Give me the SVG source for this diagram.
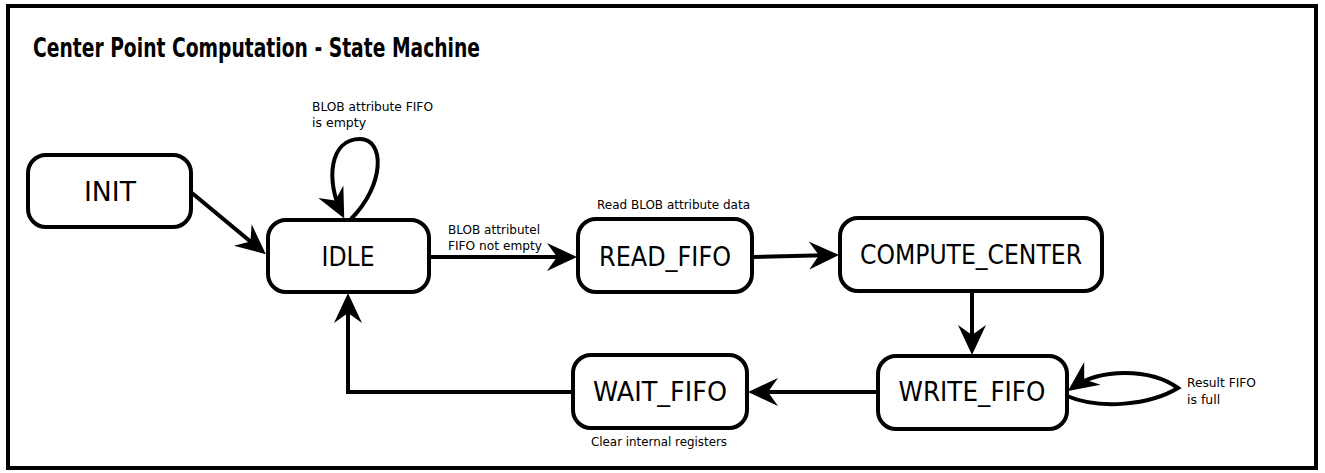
<svg xmlns="http://www.w3.org/2000/svg" width="1325" height="473" viewBox="0 0 1325 473">
<style>
.frame{fill:#fff;stroke:#000;stroke-width:4}
.node rect{fill:#fff;stroke:#000;stroke-width:4}
.node text{font-family:"DejaVu Sans",Verdana,sans-serif;font-size:27px;fill:#000;text-anchor:middle}
.lbl{font-family:"DejaVu Sans",Verdana,sans-serif;font-size:12.5px;fill:#000}
.title{font-family:"DejaVu Sans",Verdana,sans-serif;font-size:27px;font-weight:bold;fill:#000}
#connectors path{fill:none;stroke:#000;stroke-width:4;marker-end:url(#arr)}
</style>
<defs>
<marker id="arr" markerUnits="userSpaceOnUse" viewBox="-32 -16 34 32" markerWidth="34" markerHeight="32" refX="-5" refY="0" orient="auto">
<path d="M0,0 L-30,-14 L-20,0 L-30,14 Z" fill="#000"/>
</marker>
</defs>
<rect class="frame" x="8" y="6" width="1308" height="462"/>
<text class="title" x="33" y="57" textLength="447" lengthAdjust="spacingAndGlyphs">Center Point Computation - State Machine</text>
<g id="connectors">
<path d="M192 193 L262 251"/>
<path d="M351 219 C385 185 385 139 360 139 C330 139 325 180 342 214"/>
<path d="M430 257 H572"/>
<path d="M753 257 L834 255"/>
<path d="M972 292 V350"/>
<path d="M1067 396 C1100 410 1150 405 1178 388 C1150 368 1100 368 1072 388"/>
<path d="M878 392 H753"/>
<path d="M573 392 H348 V298"/>
</g>
<g id="INIT" class="node"><rect x="28" y="155" width="163" height="72" rx="18"/><text x="110" y="201" textLength="52" lengthAdjust="spacingAndGlyphs">INIT</text></g>
<g id="IDLE" class="node"><rect x="268" y="220" width="161" height="72" rx="18"/><text x="348" y="266" textLength="53" lengthAdjust="spacingAndGlyphs">IDLE</text></g>
<g id="READ_FIFO" class="node"><rect x="578" y="219" width="174" height="73" rx="18"/><text x="665" y="266" textLength="132" lengthAdjust="spacingAndGlyphs">READ_FIFO</text></g>
<g id="COMPUTE_CENTER" class="node"><rect x="840" y="218" width="262" height="73" rx="18"/><text x="971" y="264" textLength="222" lengthAdjust="spacingAndGlyphs">COMPUTE_CENTER</text></g>
<g id="WRITE_FIFO" class="node"><rect x="878" y="356" width="189" height="73" rx="18"/><text x="972" y="401" textLength="147" lengthAdjust="spacingAndGlyphs">WRITE_FIFO</text></g>
<g id="WAIT_FIFO" class="node"><rect x="573" y="355" width="174" height="73" rx="18"/><text x="660" y="401" textLength="134" lengthAdjust="spacingAndGlyphs">WAIT_FIFO</text></g>
<g id="labels">
<text class="lbl" x="312" y="111" textLength="121" lengthAdjust="spacingAndGlyphs">BLOB attribute FIFO</text>
<text class="lbl" x="312" y="127">is empty</text>
<text class="lbl" x="448" y="234" textLength="92" lengthAdjust="spacingAndGlyphs">BLOB attributel</text>
<text class="lbl" x="448" y="250" textLength="94" lengthAdjust="spacingAndGlyphs">FIFO not empty</text>
<text class="lbl" x="597" y="209" textLength="153" lengthAdjust="spacingAndGlyphs">Read BLOB attribute data</text>
<text class="lbl" x="1187" y="387" textLength="69" lengthAdjust="spacingAndGlyphs">Result FIFO</text>
<text class="lbl" x="1187" y="404">is full</text>
<text class="lbl" x="591" y="446" textLength="136" lengthAdjust="spacingAndGlyphs">Clear internal registers</text>
</g>
</svg>
